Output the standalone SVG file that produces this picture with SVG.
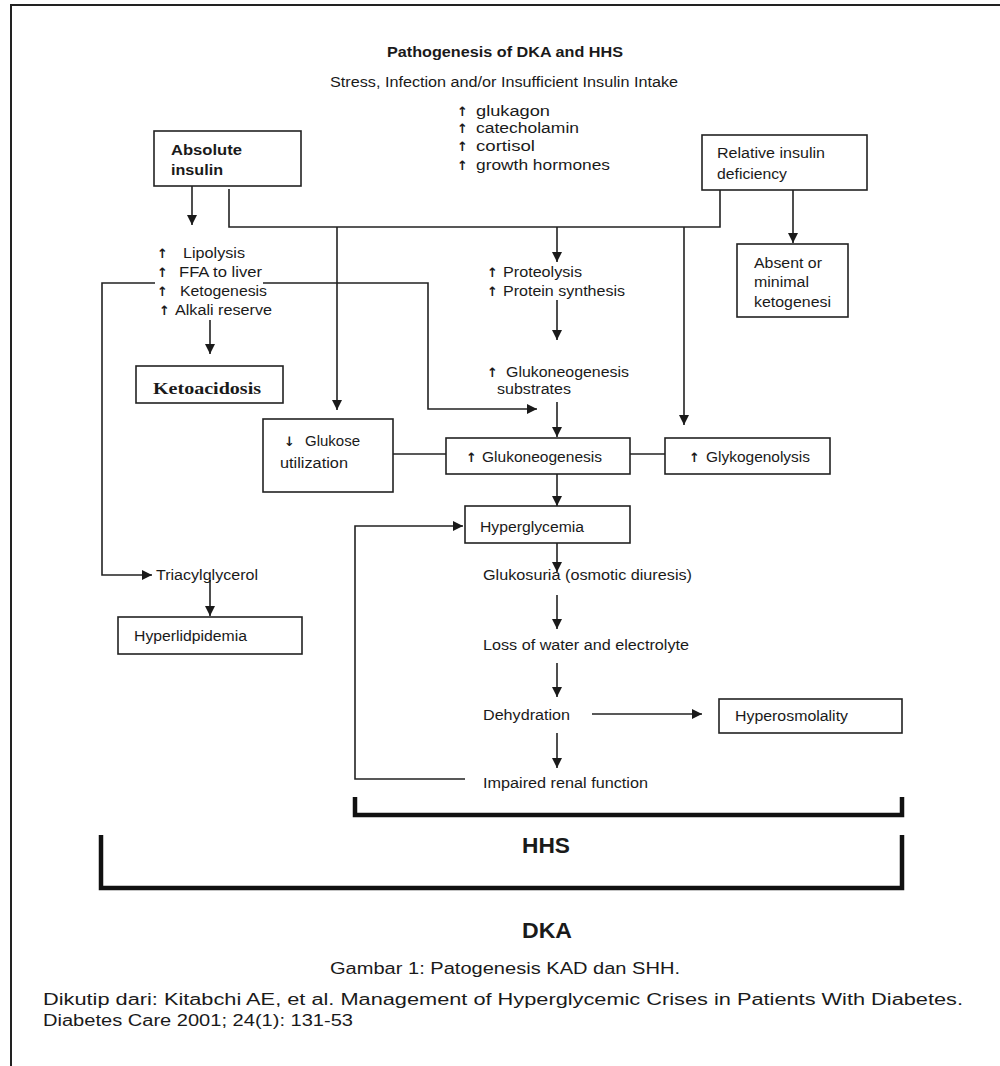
<svg xmlns="http://www.w3.org/2000/svg" width="1000" height="1066" viewBox="0 0 1000 1066">
<defs>
<marker id="ah" viewBox="0 0 10 10" refX="10" refY="5" markerWidth="10" markerHeight="10" markerUnits="userSpaceOnUse" orient="auto">
<path d="M0,0 L10,5 L0,10 z" fill="#1a1a1a"/>
</marker>
<style>
.t{font-family:"Liberation Sans",Arial,sans-serif;font-size:14px;fill:#1a1a1a}
.b{font-weight:bold}
.s{font-family:"Liberation Serif","Times New Roman",serif;font-size:16px;font-weight:bold;fill:#1a1a1a}
.ar{font-family:"DejaVu Sans",sans-serif;font-size:13px;font-weight:bold;fill:#1a1a1a}
.box{fill:#fff;stroke:#222;stroke-width:1.6}
.ln{fill:none;stroke:#222;stroke-width:1.6}
.a{fill:none;stroke:#222;stroke-width:1.6;marker-end:url(#ah)}
.br{fill:none;stroke:#111;stroke-width:4.5}
</style>
</defs>
<rect width="1000" height="1066" fill="#fff"/>
<path d="M11,1066 V5 H1000" fill="none" stroke="#222" stroke-width="2"/>

<g id="connectors">
<line class="a" x1="192" y1="175" x2="192" y2="225"/>
<path class="ln" d="M229,189 V227 H720 V190"/>
<line class="a" x1="337" y1="227" x2="337" y2="410"/>
<line class="a" x1="557" y1="227" x2="557" y2="262"/>
<line class="a" x1="684" y1="227" x2="684" y2="425"/>
<line class="a" x1="793" y1="190" x2="793" y2="243"/>
<line class="a" x1="557" y1="300" x2="557" y2="340"/>
<line class="a" x1="557" y1="402" x2="557" y2="437"/>
<line class="a" x1="210" y1="320" x2="210" y2="354"/>
<path class="a" d="M155,283 H102 V575 H152"/>
<path class="a" d="M263,283 H428 V409 H537"/>
<line class="a" x1="210" y1="580" x2="210" y2="616"/>
<line class="ln" x1="393" y1="454" x2="446" y2="454"/>
<line class="ln" x1="630" y1="454" x2="665" y2="454"/>
<line class="a" x1="557" y1="474" x2="557" y2="506"/>
<line class="a" x1="557" y1="543" x2="557" y2="572"/>
<line class="a" x1="557" y1="595" x2="557" y2="629"/>
<line class="a" x1="557" y1="663" x2="557" y2="697"/>
<line class="a" x1="557" y1="733" x2="557" y2="768"/>
<line class="a" x1="592" y1="714" x2="702" y2="714"/>
<path class="a" d="M465,779 H355 V526 H463"/>
<path class="br" d="M355,797 V815 H902 V797"/>
<path class="br" d="M101,835 V888 H902 V835"/>
</g>

<g id="title">
<text class="t b" x="387" y="57" textLength="236" lengthAdjust="spacingAndGlyphs">Pathogenesis of DKA and HHS</text>
<text class="t" x="330" y="87" textLength="348" lengthAdjust="spacingAndGlyphs">Stress, Infection and/or Insufficient Insulin Intake</text>
</g>

<g id="hormones">
<text class="ar" x="457" y="116">↑</text>
<text class="t" x="476" y="116" textLength="74" lengthAdjust="spacingAndGlyphs">glukagon</text>
<text class="ar" x="457" y="133">↑</text>
<text class="t" x="476" y="133" textLength="103" lengthAdjust="spacingAndGlyphs">catecholamin</text>
<text class="ar" x="457" y="151">↑</text>
<text class="t" x="476" y="151" textLength="59" lengthAdjust="spacingAndGlyphs">cortisol</text>
<text class="ar" x="457" y="170">↑</text>
<text class="t" x="476" y="170" textLength="134" lengthAdjust="spacingAndGlyphs">growth hormones</text>
</g>

<g id="absolute-insulin">
<rect class="box" x="154" y="131" width="147" height="55"/>
<text class="t b" x="171" y="155" textLength="71" lengthAdjust="spacingAndGlyphs">Absolute</text>
<text class="t b" x="171" y="175" textLength="52" lengthAdjust="spacingAndGlyphs">insulin</text>
</g>

<g id="relative-insulin">
<rect class="box" x="702" y="135" width="165" height="55"/>
<text class="t" x="717" y="158" textLength="108" lengthAdjust="spacingAndGlyphs">Relative insulin</text>
<text class="t" x="717" y="179" textLength="70" lengthAdjust="spacingAndGlyphs">deficiency</text>
</g>

<g id="lipolysis">
<text class="ar" x="157" y="258">↑</text>
<text class="t" x="183" y="258" textLength="62" lengthAdjust="spacingAndGlyphs">Lipolysis</text>
<text class="ar" x="157" y="277">↑</text>
<text class="t" x="179" y="277" textLength="83" lengthAdjust="spacingAndGlyphs">FFA to liver</text>
<text class="ar" x="157" y="296">↑</text>
<text class="t" x="180" y="296" textLength="87" lengthAdjust="spacingAndGlyphs">Ketogenesis</text>
<text class="ar" x="159" y="315">↑</text>
<text class="t" x="175" y="315" textLength="97" lengthAdjust="spacingAndGlyphs">Alkali reserve</text>
</g>

<g id="ketoacidosis">
<rect class="box" x="136" y="366" width="147" height="37"/>
<text class="s" x="153" y="394" textLength="108" lengthAdjust="spacingAndGlyphs">Ketoacidosis</text>
</g>

<g id="proteolysis">
<text class="ar" x="487" y="277">↑</text>
<text class="t" x="503" y="277" textLength="79" lengthAdjust="spacingAndGlyphs">Proteolysis</text>
<text class="ar" x="487" y="296">↑</text>
<text class="t" x="503" y="296" textLength="122" lengthAdjust="spacingAndGlyphs">Protein synthesis</text>
</g>

<g id="substrates">
<text class="ar" x="487" y="377">↑</text>
<text class="t" x="506" y="377" textLength="123" lengthAdjust="spacingAndGlyphs">Glukoneogenesis</text>
<text class="t" x="497" y="394" textLength="74" lengthAdjust="spacingAndGlyphs">substrates</text>
</g>

<g id="absent-ketogenesis">
<rect class="box" x="737" y="244" width="111" height="73"/>
<text class="t" x="754" y="268" textLength="68" lengthAdjust="spacingAndGlyphs">Absent or</text>
<text class="t" x="754" y="287" textLength="55" lengthAdjust="spacingAndGlyphs">minimal</text>
<text class="t" x="754" y="307" textLength="77" lengthAdjust="spacingAndGlyphs">ketogenesi</text>
</g>

<g id="glukose-utilization">
<rect class="box" x="263" y="419" width="130" height="73"/>
<text class="ar" x="284" y="446">↓</text>
<text class="t" x="305" y="446" textLength="55" lengthAdjust="spacingAndGlyphs">Glukose</text>
<text class="t" x="280" y="468" textLength="68" lengthAdjust="spacingAndGlyphs">utilization</text>
</g>

<g id="glukoneogenesis">
<rect class="box" x="446" y="438" width="184" height="36"/>
<text class="ar" x="466" y="462">↑</text>
<text class="t" x="482" y="462" textLength="120" lengthAdjust="spacingAndGlyphs">Glukoneogenesis</text>
</g>

<g id="glykogenolysis">
<rect class="box" x="665" y="438" width="165" height="36"/>
<text class="ar" x="689" y="462">↑</text>
<text class="t" x="706" y="462" textLength="104" lengthAdjust="spacingAndGlyphs">Glykogenolysis</text>
</g>

<g id="hyperglycemia">
<rect class="box" x="465" y="506" width="165" height="37"/>
<text class="t" x="480" y="532" textLength="104" lengthAdjust="spacingAndGlyphs">Hyperglycemia</text>
</g>

<g id="triacylglycerol">
<text class="t" x="156" y="580" textLength="102" lengthAdjust="spacingAndGlyphs">Triacylglycerol</text>
</g>

<g id="hyperlipidemia">
<rect class="box" x="118" y="617" width="184" height="37"/>
<text class="t" x="134" y="641" textLength="113" lengthAdjust="spacingAndGlyphs">Hyperlidpidemia</text>
</g>

<g id="glukosuria">
<text class="t" x="483" y="580" textLength="209" lengthAdjust="spacingAndGlyphs">Glukosuria (osmotic diuresis)</text>
</g>
<g id="loss-water">
<text class="t" x="483" y="650" textLength="206" lengthAdjust="spacingAndGlyphs">Loss of water and electrolyte</text>
</g>
<g id="dehydration">
<text class="t" x="483" y="720" textLength="87" lengthAdjust="spacingAndGlyphs">Dehydration</text>
</g>
<g id="impaired-renal">
<text class="t" x="483" y="788" textLength="165" lengthAdjust="spacingAndGlyphs">Impaired renal function</text>
</g>

<g id="hyperosmolality">
<rect class="box" x="719" y="699" width="183" height="34"/>
<text class="t" x="735" y="721" textLength="113" lengthAdjust="spacingAndGlyphs">Hyperosmolality</text>
</g>

<g id="hhs-label">
<text class="t b" x="522" y="853" style="font-size:22px" textLength="48" lengthAdjust="spacingAndGlyphs">HHS</text>
</g>
<g id="dka-label">
<text class="t b" x="522" y="938" style="font-size:22px" textLength="50" lengthAdjust="spacingAndGlyphs">DKA</text>
</g>

<g id="caption">
<text class="t" x="330" y="974" style="font-size:16px" textLength="350" lengthAdjust="spacingAndGlyphs">Gambar 1: Patogenesis KAD dan SHH.</text>
<text class="t" x="43" y="1005" style="font-size:16px" textLength="920" lengthAdjust="spacingAndGlyphs">Dikutip dari: Kitabchi AE, et al. Management of Hyperglycemic Crises in Patients With Diabetes.</text>
<text class="t" x="43" y="1026" style="font-size:16px" textLength="310" lengthAdjust="spacingAndGlyphs">Diabetes Care 2001; 24(1): 131-53</text>
</g>
</svg>
